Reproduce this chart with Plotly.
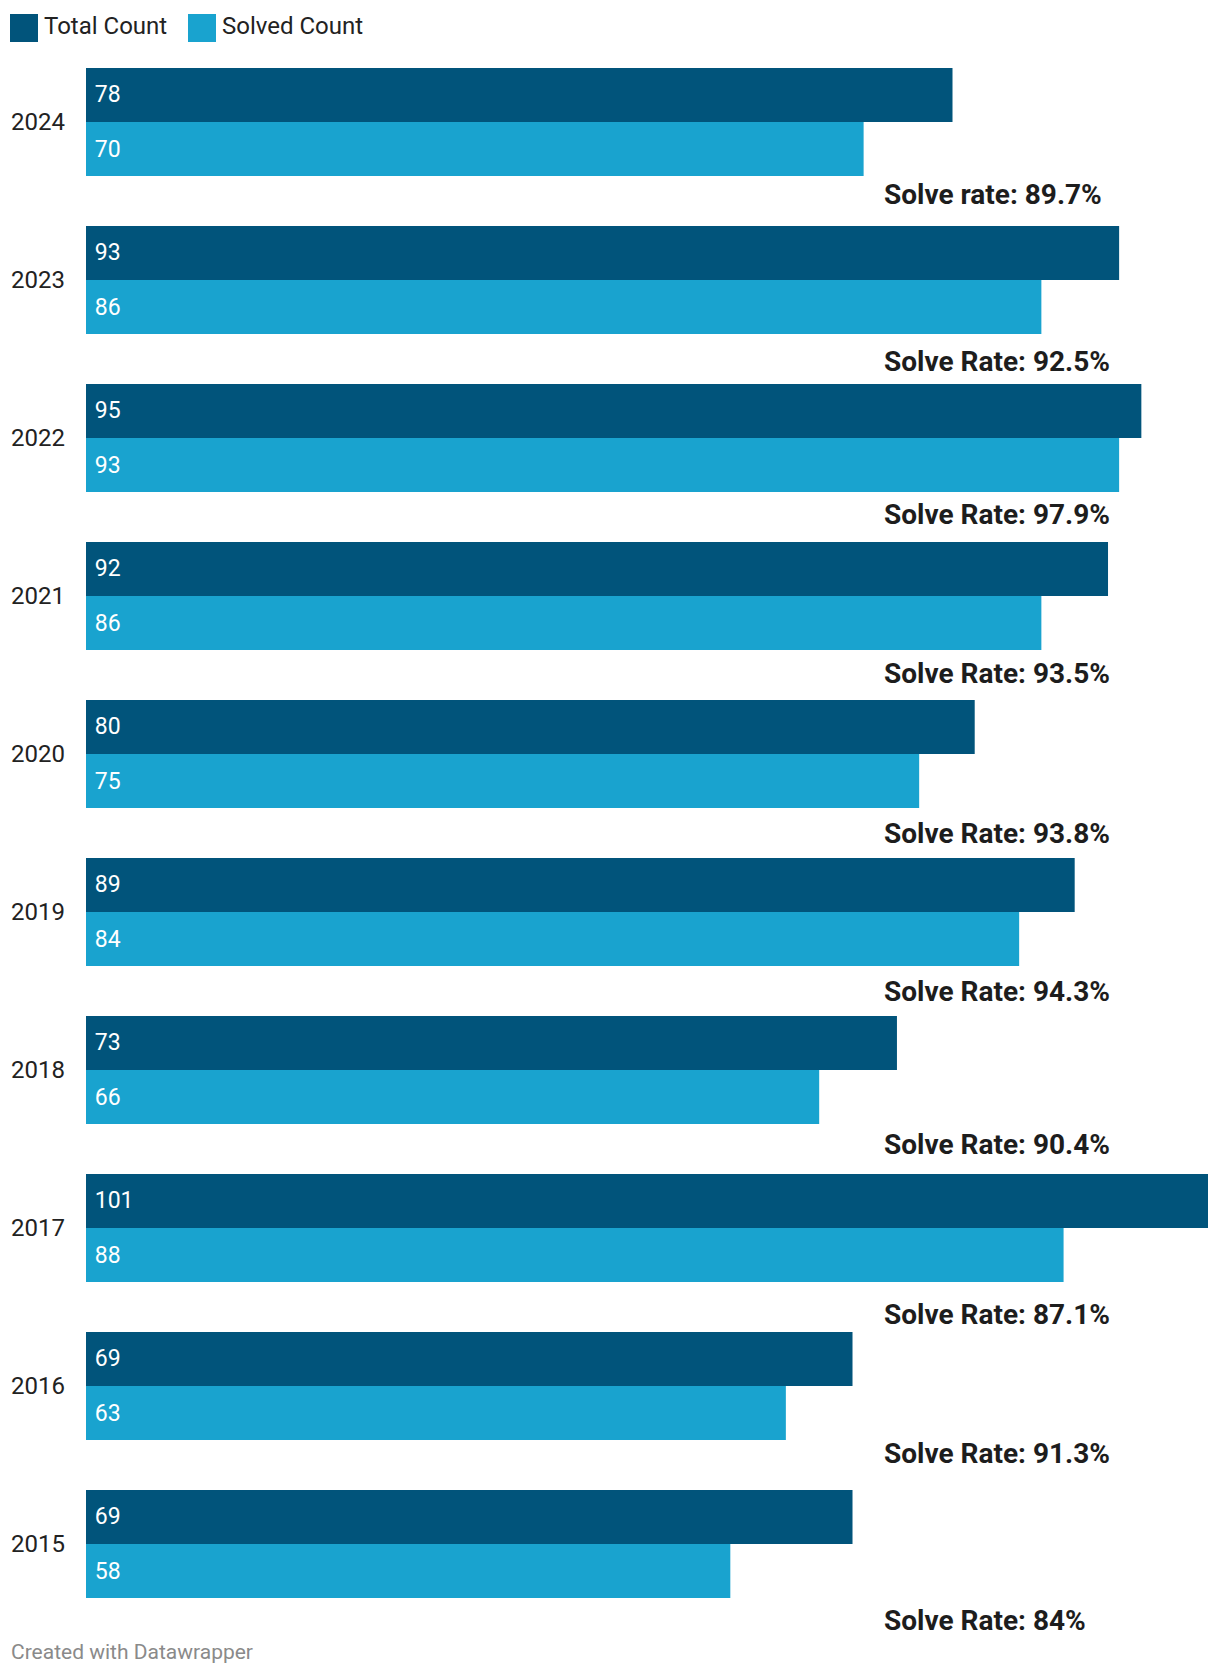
import plotly.graph_objects as go

years = ["2024", "2023", "2022", "2021", "2020", "2019", "2018", "2017", "2016", "2015"]
total_count = [78, 93, 95, 92, 80, 89, 73, 101, 69, 69]
solved_count = [70, 86, 93, 86, 75, 84, 66, 88, 63, 58]
rate_labels = ["Solve rate: 89.7%", "Solve Rate: 92.5%", "Solve Rate: 97.9%", "Solve Rate: 93.5%",
               "Solve Rate: 93.8%", "Solve Rate: 94.3%", "Solve Rate: 90.4%", "Solve Rate: 87.1%",
               "Solve Rate: 91.3%", "Solve Rate: 84%"]

# manual vertical nudges (px, downward) of the hand-placed rate notes
rate_note_nudge = [-4, 5, 0, 1, 3, 3, -2, 10, -9, 0]

C_TOTAL = "#01547b"
C_SOLVED = "#19a3cf"
FONT = "Roboto"
TXT = "#222222"

fig = go.Figure()
for name, vals, col in [("Total Count", total_count, C_TOTAL), ("Solved Count", solved_count, C_SOLVED)]:
    fig.add_trace(go.Bar(
        y=years, x=vals, name=name, orientation="h", marker=dict(color=col, line=dict(width=0)),
        text=["\u00a0" + str(v) for v in vals], textposition="inside", insidetextanchor="start",
        textfont=dict(family=FONT, size=23, color="white"), textangle=0,
        showlegend=False, hoverinfo="x+y+name",
    ))

fig.update_layout(
    width=1220, height=1676,
    margin=dict(l=86, r=12, t=43, b=53),
    barmode="group", bargap=0.316, bargroupgap=0,
    plot_bgcolor="white", paper_bgcolor="white",
    font=dict(family=FONT, color=TXT),
    xaxis=dict(range=[0, 101], visible=False, fixedrange=True),
    yaxis=dict(type="category", categoryorder="array", categoryarray=years,
               range=[len(years) - 0.5, -0.5], autorange=False,
               showgrid=False, zeroline=False, showline=False, ticks="",
               ticklabelstandoff=20, tickfont=dict(family=FONT, size=24, color=TXT)),
)

# legend (manual, large squares)
for name, col, px0 in [("Total Count", C_TOTAL, -76), ("Solved Count", C_SOLVED, 102)]:
    fig.add_shape(type="rect", xref="paper", yref="paper", xsizemode="pixel", ysizemode="pixel",
                  xanchor=0, yanchor=1, x0=px0, x1=px0 + 28, y0=1, y1=29,
                  fillcolor=col, line=dict(width=0))
    fig.add_annotation(text=name, xref="paper", yref="paper", x=0, y=1, xanchor="left", yanchor="middle",
                       xshift=px0 + 32, yshift=17, showarrow=False,
                       font=dict(family=FONT, size=24, color=TXT))

# solve-rate annotations (positioned by category index on the y axis)
for i, lab in enumerate(rate_labels):
    fig.add_annotation(text="<b>" + lab + "</b>", xref="paper", yref="y", x=796 / 1122, y=i,
                       xanchor="left", yanchor="middle", yshift=-76 - rate_note_nudge[i], showarrow=False,
                       font=dict(family=FONT, size=28, color="#1d1d1d"))

fig.add_annotation(text="Created with Datawrapper", xref="paper", yref="paper", x=0, y=0,
                   xanchor="left", yanchor="middle", xshift=-77, yshift=-29, showarrow=False,
                   font=dict(family=FONT, size=21, color="#8a8a8a"))

fig.write_html("out.html")
